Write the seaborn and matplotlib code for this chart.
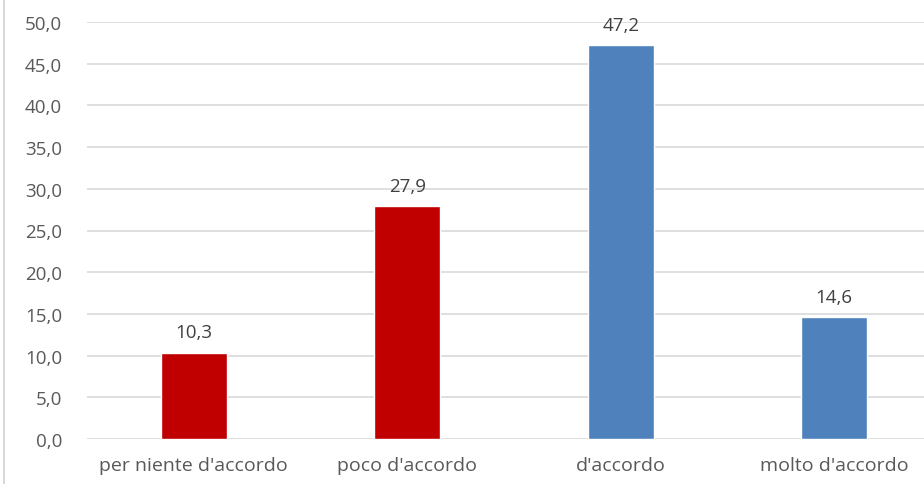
import pandas as pd
import matplotlib.pyplot as plt
import seaborn as sns
from matplotlib.lines import Line2D

# data
categories = ["per niente d'accordo", "poco d'accordo", "d'accordo", "molto d'accordo"]
values = [10.3, 27.9, 47.2, 14.6]
bar_colors = ["#C00000", "#C00000", "#4F81BD", "#4F81BD"]
y_ticks = [0, 5, 10, 15, 20, 25, 30, 35, 40, 45, 50]

df = pd.DataFrame({"cat": categories, "val": values})

sns.set_style("white")
plt.rcParams['font.family'] = ['Open Sans', 'DejaVu Sans']

fig = plt.figure(figsize=(9.24, 4.85), dpi=100)
ax = fig.add_axes([87 / 924, 45 / 485, 854 / 924, 417 / 485])

sns.barplot(data=df, x="cat", y="val", hue="cat", palette=bar_colors,
            width=0.31, legend=False, ax=ax, saturation=1)

ax.set_ylim(0, 50)
ax.set_xlim(-0.5, 3.5)
ax.set_yticks(y_ticks)
ax.set_yticklabels([f"{t:.1f}".replace(".", ",") for t in y_ticks])
ax.yaxis.grid(True, color="#D9D9D9", linewidth=1.2)
ax.set_axisbelow(True)
for s in ax.spines.values():
    s.set_visible(False)
ax.tick_params(axis="y", length=0, pad=18, labelsize=13.5, labelcolor="#595959")
ax.tick_params(axis="x", length=0, pad=12.5, labelsize=14, labelcolor="#595959")
ax.set_xlabel("")
ax.set_ylabel("")

for i, v in enumerate(values):
    ax.text(i, v + 1.4, f"{v:.1f}".replace(".", ","), ha="center", va="bottom",
            fontsize=13.5, color="#404040")

# left border of the chart area
fig.add_artist(Line2D([3.5 / 924, 3.5 / 924], [0, 1], color="#D9D9D9", linewidth=1.5))

fig.savefig("out.png", dpi=100)
